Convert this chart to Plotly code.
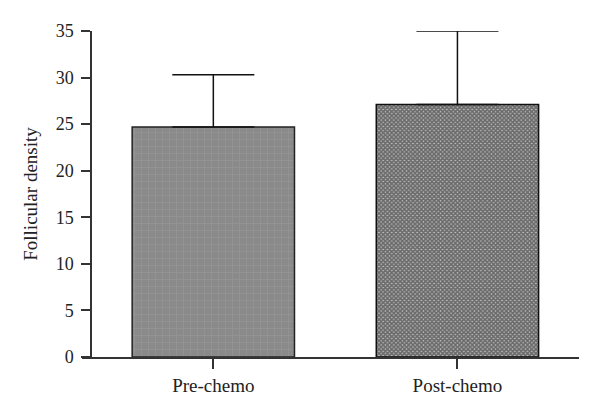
import plotly.graph_objects as go

categories = ["Pre-chemo", "Post-chemo"]
means = [24.7, 27.1]
sd_upper = [5.6, 7.9]
y_ticks = [0, 5, 10, 15, 20, 25, 30, 35]

W, H = 600, 417
off = 8  # page body margin
left, right, top, bottom = 82 - off, 579 - off, 31 - off, 357 - off

fig = go.Figure()
fig.add_trace(go.Bar(
    x=[0], y=[means[0]], width=0.665,
    marker=dict(color="#8a8a8a", line=dict(color="#222", width=1.5),
                pattern=dict(shape="+", fgcolor="#b0b0b0", bgcolor="#8a8a8a", size=7, solidity=0.12)),
    error_y=dict(type="data", symmetric=False, array=[sd_upper[0]], arrayminus=[0],
                 color="#111", thickness=1.5, width=41),
    showlegend=False))
fig.add_trace(go.Bar(
    x=[1], y=[means[1]], width=0.665,
    marker=dict(color="#777", line=dict(color="#111", width=1.5),
                pattern=dict(shape="x", fgcolor="#111", bgcolor="#c4c4c4", size=3, solidity=0.8)),
    error_y=dict(type="data", symmetric=False, array=[sd_upper[1]], arrayminus=[0],
                 color="#111", thickness=1.5, width=41),
    showlegend=False))

font = dict(family="Liberation Serif", size=19, color="#222")
tfont = dict(family="Liberation Serif", size=18, color="#222")
fig.update_layout(
    width=W, height=H,
    margin=dict(l=left, r=W - right, t=top, b=H - bottom, pad=0, autoexpand=False),
    paper_bgcolor="white", plot_bgcolor="white",
    font=font,
    xaxis=dict(range=[-0.538, 1.498], tickmode="array", tickvals=[0, 1], ticktext=categories,
               showline=True, linecolor="#333", linewidth=1.5, ticks="outside", ticklen=10,
               tickwidth=1.5, tickcolor="#333", showgrid=False, zeroline=False, tickfont=font,
               automargin=False),
    yaxis=dict(range=[0, 35], tickvals=y_ticks, anchor="free", position=9 / (right - left),
               showline=True, linecolor="#333", linewidth=1.5, ticks="outside", ticklen=9,
               tickwidth=1.5, tickcolor="#333", showgrid=False, zeroline=False, tickfont=tfont,
               automargin=False, ticklabelstandoff=4,
               title=dict(text="Follicular density", font=font, standoff=12)),
)
fig.write_html("out.html")
